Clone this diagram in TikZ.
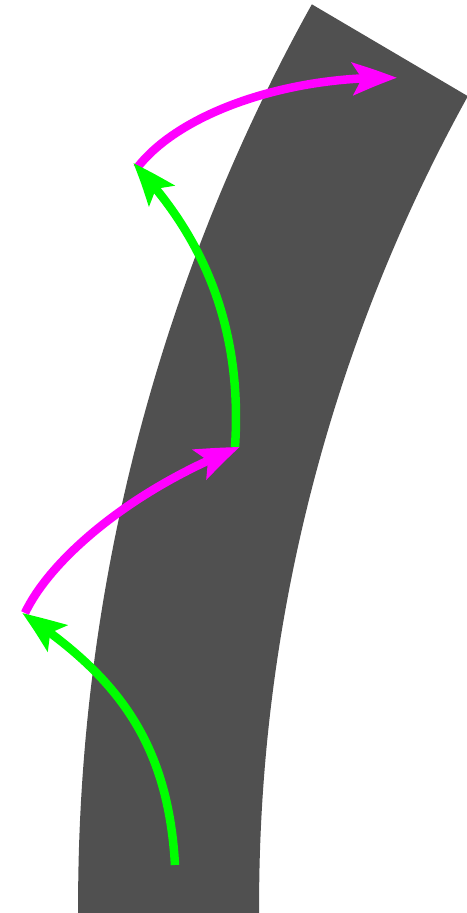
\documentclass[tikz,border=0pt]{standalone}
\usetikzlibrary{arrows.meta,bending}
\definecolor{road}{RGB}{80,80,80}
\definecolor{grn}{RGB}{0,255,0}
\definecolor{mag}{RGB}{255,0,255}
\begin{document}
\begin{tikzpicture}[x=1pt,y=1pt,
  move/.style={line width=8.5pt,
    -{Stealth[length=44pt,width=32pt,inset=9pt,bend]}},
  gmove/.style={move,draw=grn},
  mmove/.style={move,draw=mag}]
\useasboundingbox (0,0) rectangle (466,-913);
\coordinate (C) at (1930,-905);
% curved band
\fill[road] ([shift={(180.6:1852)}]C) arc[start angle=180.6, end angle=150.9, radius=1852]
  -- ([shift={(151.05:1671)}]C) arc[start angle=151.05, end angle=180.6, radius=1671] -- cycle;
% end points of the moves
\coordinate (s0) at (175,-865);
\coordinate (g1) at (22,-613);
\coordinate (s1) at (25,-613);
\coordinate (m1) at (240,-447);
\coordinate (s2) at (235,-447);
\coordinate (g2) at (133,-163);
\coordinate (s3) at (137,-168);
\coordinate (m2) at (397,-78);
% moves (drawn so that each head lies over the next shaft)
\draw[mmove] (s3) .. controls (180,-112) and (290,-75) .. (m2);
\draw[gmove] (s2) .. controls (242,-340) and (212,-245) .. (g2);
\draw[mmove] (s1) .. controls (50,-560) and (130,-490) .. (m1);
\draw[gmove] (s0) .. controls (168,-740) and (115,-675) .. (g1);
\end{tikzpicture}
\end{document}
